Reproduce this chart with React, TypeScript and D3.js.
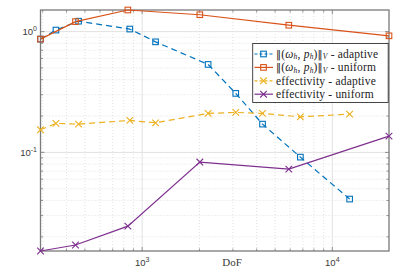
import React from 'react';
import * as d3 from 'd3';

// values
const dofUniform = [292, 446, 841, 2010, 5903, 19860];
const normUniform = [0.867, 1.21, 1.51, 1.38, 1.13, 0.923];
const effUniform = [0.01527, 0.01712, 0.02453, 0.0832, 0.0728, 0.1364];
const dofAdaptive = [292, 352, 463, 861, 1176, 2222, 3105, 4295, 6790, 12330];
const normAdaptive = [0.867, 1.03, 1.22, 1.05, 0.823, 0.535, 0.308, 0.1715, 0.0914, 0.0411];
const effAdaptive = [0.1539, 0.1738, 0.1715, 0.184, 0.1758, 0.2103, 0.2143, 0.2103, 0.197, 0.2075];
const xMajor = [1000, 10000];
const yMajor = [0.1, 1];
const xLabel = 'DoF';

const W = 405;
const H = 280;
const m = { left: 40.5, right: 389, top: 10, bottom: 251 };

const blue = '#0072BD';
const orange = '#D95319';
const yellow = '#EDB120';
const purple = '#7E2F8E';

type Series = { x: number[]; y: number[]; color: string; dash: string | null; marker: 'sq' | 'x' };

const series: Series[] = [
  { x: dofAdaptive, y: normAdaptive, color: blue, dash: '6,4', marker: 'sq' },
  { x: dofUniform, y: normUniform, color: orange, dash: null, marker: 'sq' },
  { x: dofAdaptive, y: effAdaptive, color: yellow, dash: '6,4', marker: 'x' },
  { x: dofUniform, y: effUniform, color: purple, dash: null, marker: 'x' },
];

const Marker = ({ kind, cx, cy, color }: { kind: string; cx: number; cy: number; color: string }) => {
  if (kind === 'sq') {
    return <rect x={cx - 2.8} y={cy - 2.8} width={5.6} height={5.6} fill="none" stroke={color} strokeWidth={1.1} />;
  }
  const s = 3.3;
  return (
    <path
      d={`M${cx - s},${cy - s}L${cx + s},${cy + s}M${cx - s},${cy + s}L${cx + s},${cy - s}`}
      stroke={color}
      strokeWidth={1.1}
      fill="none"
    />
  );
};

const NormText = ({ suffix }: { suffix: string }) => (
  <>
    <tspan fontFamily='"DejaVu Sans", sans-serif' fontSize={10}>‖</tspan>
    <tspan>(</tspan>
    <tspan fontStyle="italic">ω</tspan>
    <tspan fontStyle="italic" fontSize={7.5} dy={1.5}>h</tspan>
    <tspan dy={-1.5}>, </tspan>
    <tspan fontStyle="italic">p</tspan>
    <tspan fontStyle="italic" fontSize={7.5} dy={1.5}>h</tspan>
    <tspan dy={-1.5}>)</tspan>
    <tspan fontFamily='"DejaVu Sans", sans-serif' fontSize={10}>‖</tspan>
    <tspan fontStyle="italic" fontSize={7.5} dy={1.5}>V</tspan>
    <tspan dy={-1.5}>{suffix}</tspan>
  </>
);

const legendRows = [
  { s: series[0], label: <NormText suffix=" - adaptive" /> },
  { s: series[1], label: <NormText suffix=" - uniform" /> },
  { s: series[2], label: 'effectivity - adaptive' },
  { s: series[3], label: 'effectivity - uniform' },
];

export default function App() {
  const allX = [...dofUniform, ...dofAdaptive];
  const allY = [...normUniform, ...effUniform, ...normAdaptive, ...effAdaptive];
  const x = d3.scaleLog().domain(d3.extent(allX) as [number, number]).range([m.left, m.right]);
  const y = d3.scaleLog().domain(d3.extent(allY) as [number, number]).range([m.bottom, m.top]);

  const xTicks = x.ticks();
  const yTicks = y.ticks();
  const xMinor = xTicks.filter((t) => !xMajor.includes(t));
  const yMinor = yTicks.filter((t) => !yMajor.some((v) => Math.abs(v - t) < 1e-9));

  const sansFont = '"Liberation Sans", Arial, sans-serif';
  const serifFont = '"Liberation Serif", "DejaVu Serif", serif';
  const axisColor = '#7a7a7a';
  const textColor = '#3a3a3a';

  const lg = { x: 252.7, y: 43.5, w: 135.5, h: 59 };

  return (
    <svg width={W} height={H} style={{ position: 'absolute', left: 0, top: 0, background: '#fff' }}>
      {/* minor grid */}
      {xMinor.map((t) => (
        <line key={'xm' + t} x1={x(t)} x2={x(t)} y1={m.top} y2={m.bottom} stroke="#d6d6d6" strokeWidth={0.7} strokeDasharray="1,2" />
      ))}
      {yMinor.map((t) => (
        <line key={'ym' + t} x1={m.left} x2={m.right} y1={y(t)} y2={y(t)} stroke="#d6d6d6" strokeWidth={0.7} strokeDasharray="1,2" />
      ))}
      {/* major grid */}
      {xMajor.map((t) => (
        <line key={'xg' + t} x1={x(t)} x2={x(t)} y1={m.top} y2={m.bottom} stroke="#e2e2e2" strokeWidth={1} />
      ))}
      {yMajor.map((t) => (
        <line key={'yg' + t} x1={m.left} x2={m.right} y1={y(t)} y2={y(t)} stroke="#e2e2e2" strokeWidth={1} />
      ))}

      {/* ticks */}
      {xTicks.map((t) => {
        const len = xMajor.includes(t) ? 4 : 2.5;
        return (
          <g key={'xt' + t} stroke={axisColor} strokeWidth={0.8}>
            <line x1={x(t)} x2={x(t)} y1={m.bottom} y2={m.bottom - len} />
            <line x1={x(t)} x2={x(t)} y1={m.top} y2={m.top + len} />
          </g>
        );
      })}
      {yTicks.map((t) => {
        const len = yMajor.some((v) => Math.abs(v - t) < 1e-9) ? 4 : 2.5;
        return (
          <g key={'yt' + t} stroke={axisColor} strokeWidth={0.8}>
            <line x1={m.left} x2={m.left + len} y1={y(t)} y2={y(t)} />
            <line x1={m.right} x2={m.right - len} y1={y(t)} y2={y(t)} />
          </g>
        );
      })}

      {/* box */}
      <rect x={m.left} y={m.top} width={m.right - m.left} height={m.bottom - m.top} fill="none" stroke={axisColor} strokeWidth={1.3} />

      {/* tick labels */}
      {xMajor.map((t) => (
        <text key={'xl' + t} x={x(t)} y={266} textAnchor="middle" fontFamily={sansFont} fontSize={9.5} fill={textColor}>
          10<tspan fontSize={7} dy={-4}>{Math.round(Math.log10(t))}</tspan>
        </text>
      ))}
      {yMajor.map((t) => (
        <text key={'yl' + t} x={37} y={y(t) + 3.5} textAnchor="end" fontFamily={sansFont} fontSize={9.5} fill={textColor}>
          10<tspan fontSize={7} dy={-4}>{Math.round(Math.log10(t))}</tspan>
        </text>
      ))}
      <text x={232} y={266} textAnchor="middle" fontFamily={serifFont} fontSize={11} fill={textColor}>
        {xLabel}
      </text>

      {/* series */}
      {series.map((s, i) => {
        const pts = s.x.map((v, j) => [x(v), y(s.y[j])] as [number, number]);
        const path = d3.line()(pts) || '';
        return (
          <g key={'s' + i}>
            <path d={path} fill="none" stroke={s.color} strokeWidth={1.2} strokeDasharray={s.dash || undefined} />
            {pts.map((p, j) => (
              <Marker key={j} kind={s.marker} cx={p[0]} cy={p[1]} color={s.color} />
            ))}
          </g>
        );
      })}

      {/* legend */}
      <rect x={lg.x} y={lg.y} width={lg.w} height={lg.h} fill="#fff" stroke="#333" strokeWidth={0.9} />
      {legendRows.map((r, i) => {
        const cy = 54 + i * 13.4;
        return (
          <g key={'lg' + i}>
            <line x1={254.5} x2={273} y1={cy} y2={cy} stroke={r.s.color} strokeWidth={1.2} strokeDasharray={r.s.dash ? '3,2' : undefined} />
            <Marker kind={r.s.marker} cx={263.5} cy={cy} color={r.s.color} />
            <text x={276} y={cy + 3.8} fontFamily={serifFont} fontSize={11.5} letterSpacing={0.2} fill="#222">
              {r.label}
            </text>
          </g>
        );
      })}
    </svg>
  );
}
